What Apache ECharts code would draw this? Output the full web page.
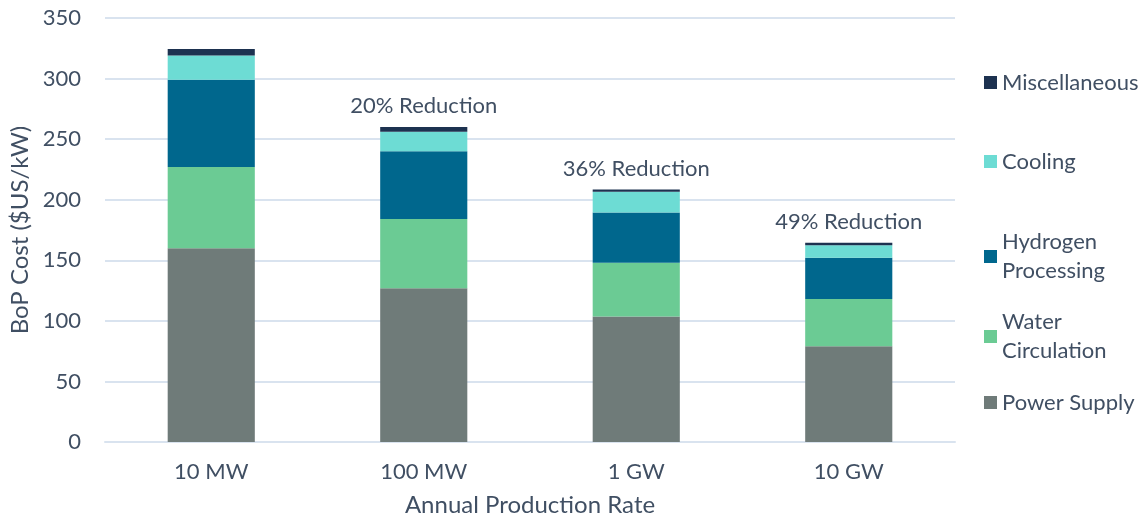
<!DOCTYPE html>
<html><head><meta charset="utf-8">
<script src="https://cdn.jsdelivr.net/npm/echarts@6/dist/echarts.min.js"></script>
<style>html,body{margin:0;padding:0;background:#fff}#c{width:1145px;height:516px}</style>
</head><body><div id="c"></div>
<script>
const categories = ['10 MW', '100 MW', '1 GW', '10 GW'];
const powerSupply = [160, 127, 103.5, 79];
const waterCirculation = [67, 57, 44.5, 39];
const hydrogenProcessing = [72, 56, 41.5, 34];
const cooling = [20, 16, 17, 10.5];
const miscellaneous = [5.5, 4, 2, 2];
const reductionLabels = ['', '20% Reduction', '36% Reduction', '49% Reduction'];
const yTicks = [0, 50, 100, 150, 200, 250, 300, 350];

const FONT = 'Lato';
const TXT = '#404F63';
const GRID = '#D9E3EF';
const FS = 22;

const seriesDefs = [
  {name: 'Power Supply', data: powerSupply, color: '#6F7B79'},
  {name: 'Water Circulation', data: waterCirculation, color: '#6BCB94'},
  {name: 'Hydrogen Processing', data: hydrogenProcessing, color: '#00678D'},
  {name: 'Cooling', data: cooling, color: '#6DDCD4'},
  {name: 'Miscellaneous', data: miscellaneous, color: '#1D3250'}
];

const series = seriesDefs.map((s, i) => ({
  name: s.name, type: 'bar', stack: 'total', barWidth: '41%',
  itemStyle: {color: s.color},
  data: s.data.map((v, j) => {
    if (i === seriesDefs.length - 1 && reductionLabels[j]) {
      return {value: v, label: {show: true, position: 'top', distance: 10, formatter: reductionLabels[j],
        color: TXT, fontFamily: FONT, fontSize: FS}};
    }
    return v;
  })
}));

const legendPos = [
  {name: 'Miscellaneous', top: 63, two: false},
  {name: 'Cooling', top: 142, two: false},
  {name: 'Hydrogen Processing', top: 208, two: true},
  {name: 'Water Circulation', top: 288, two: true},
  {name: 'Power Supply', top: 383, two: false}
];
const legends = legendPos.map(l => ({
  data: [l.name], left: 979, top: l.top, orient: 'vertical',
  icon: 'rect', itemWidth: 13, itemHeight: 13, itemGap: 0,
  formatter: n => l.two ? n.replace(' ', '\n') : n,
  textStyle: l.two ? {color: TXT, fontFamily: FONT, fontSize: FS, lineHeight: 29, padding: [29, 0, 0, 0]}
                   : {color: TXT, fontFamily: FONT, fontSize: FS, lineHeight: 29},
  selectedMode: false
}));

const chart = echarts.init(document.getElementById('c'), null, {renderer: 'canvas'});
chart.setOption({
  animation: false,
  textStyle: {fontFamily: FONT},
  grid: {left: 105, right: 190, top: 18, bottom: 74, containLabel: false, outerBoundsMode: 'none'},
  legend: legends,
  xAxis: {
    type: 'category', data: categories,
    axisLine: {lineStyle: {color: GRID, width: 2}}, axisTick: {show: false},
    axisLabel: {color: TXT, fontFamily: FONT, fontSize: FS, margin: 19},
    name: 'Annual Production Rate', nameLocation: 'middle', nameGap: 51,
    nameTextStyle: {color: TXT, fontFamily: FONT, fontSize: 24}
  },
  yAxis: {
    type: 'value', min: yTicks[0], max: yTicks[yTicks.length - 1], interval: 50,
    axisLine: {show: false}, axisTick: {show: false},
    splitLine: {lineStyle: {color: GRID, width: 2}},
    axisLabel: {color: TXT, fontFamily: FONT, fontSize: FS, margin: 24},
    name: 'BoP Cost ($US/kW)', nameLocation: 'middle', nameGap: 65, nameRotate: 90,
    nameTextStyle: {color: TXT, fontFamily: FONT, fontSize: 24}
  },
  series: series
});
</script></body></html>
